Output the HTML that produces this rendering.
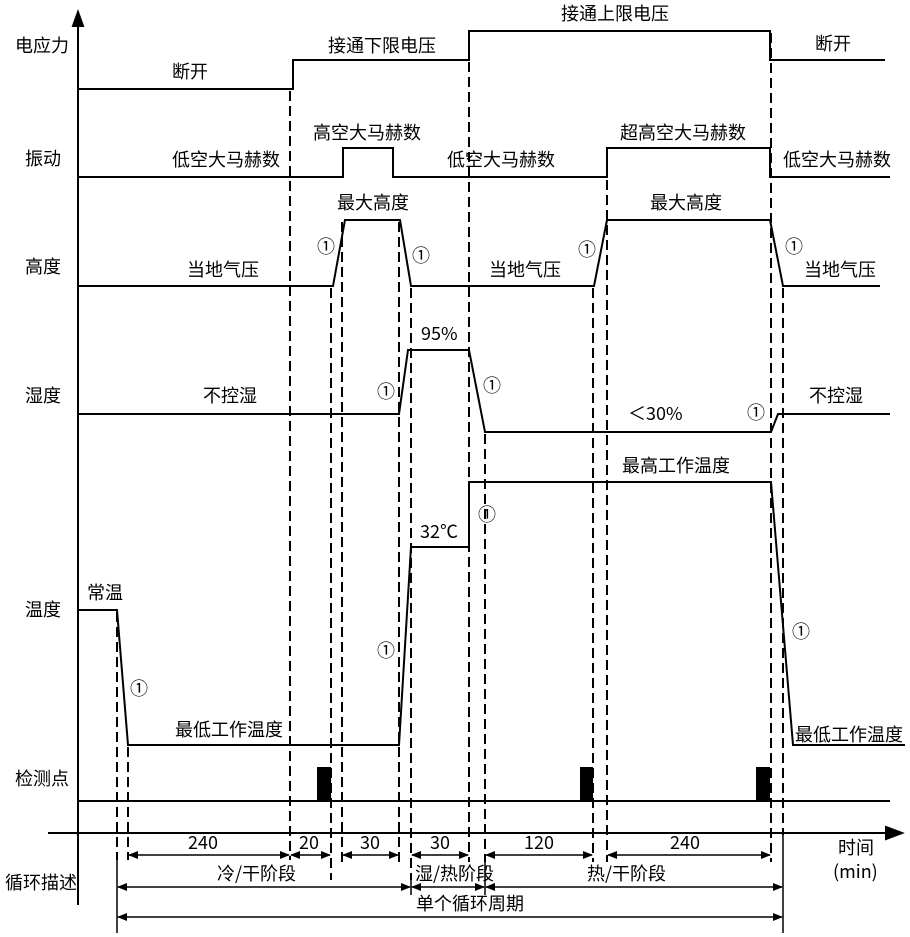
<!DOCTYPE html>
<html><head><meta charset="utf-8"><style>
html,body{margin:0;padding:0;background:#fff;}
svg{display:block;}
text{font-family:"Noto Sans CJK SC","Liberation Sans",sans-serif;font-size:18px;fill:#000;}
</style></head><body>
<svg width="910" height="937" viewBox="0 0 910 937" xmlns="http://www.w3.org/2000/svg">
<defs>
<marker id="a" markerWidth="10" markerHeight="10" refX="9" refY="5" orient="auto-start-reverse" markerUnits="userSpaceOnUse"><path d="M0,1 L10,5 L0,9 z" fill="#000"/></marker>
</defs>
<g stroke="#000" stroke-width="2" fill="none">
<line x1="78" y1="905" x2="78" y2="25"/>
<path d="M73,26 L78,12 L83,26 z" fill="#000"/>
<line x1="48" y1="833" x2="888" y2="833"/>
<path d="M886,827 L902,833 L886,839 z" fill="#000"/>
<polyline points="78,89 293,89 293,60 469,60 469,31 770,31 770,60 885,60"/>
<polyline points="78,177 343,177 343,148 393,148 393,177 607,177 607,148 770,148 770,177 890,177"/>
<polyline points="78,286 333,286 345,220 400,220 411,286 594,286 607,220 770,220 783,286 880,286"/>
<polyline points="78,414 399,414 408,350 469,350 485,432 771,432 778,414 890,414"/>
<polyline points="78,610 117,610 128,745 399,745 411,547 469,547 469,482 771,482 793,745 905,745"/>
<line x1="78" y1="801" x2="890" y2="801"/>
</g>
<g fill="#000">
<rect x="317" y="767" width="14" height="34"/>
<rect x="580" y="767" width="13" height="34"/>
<rect x="756" y="767" width="14" height="34"/>
</g>
<g stroke="#000" stroke-width="2" stroke-dasharray="10,5" fill="none">
<line x1="117" y1="612" x2="117" y2="860"/>
<line x1="128" y1="747" x2="128" y2="860"/>
<line x1="290" y1="91" x2="290" y2="860"/>
<line x1="331" y1="288" x2="331" y2="880"/>
<line x1="342" y1="222" x2="342" y2="862"/>
<line x1="399" y1="222" x2="399" y2="862"/>
<line x1="411" y1="288" x2="411" y2="880"/>
<line x1="469" y1="62" x2="469" y2="862"/>
<line x1="485" y1="434" x2="485" y2="862"/>
<line x1="593" y1="288" x2="593" y2="862"/>
<line x1="607" y1="150" x2="607" y2="862"/>
<line x1="771" y1="33" x2="771" y2="862"/>
<line x1="783" y1="288" x2="783" y2="835"/>
</g>
<g stroke="#000" stroke-width="1.5" fill="none">
<line x1="117" y1="860" x2="117" y2="933"/>
<line x1="783" y1="835" x2="783" y2="933"/>
<line x1="411" y1="880" x2="411" y2="895"/>
<line x1="485" y1="862" x2="485" y2="895"/>
</g>
<g stroke="#000" stroke-width="1.5" fill="none" marker-start="url(#a)" marker-end="url(#a)">
<line x1="129" y1="855" x2="289" y2="855"/>
<line x1="291" y1="855" x2="330" y2="855"/>
<line x1="343" y1="855" x2="398" y2="855"/>
<line x1="412" y1="855" x2="468" y2="855"/>
<line x1="486" y1="855" x2="592" y2="855"/>
<line x1="608" y1="855" x2="770" y2="855"/>
<line x1="118" y1="887" x2="410" y2="887"/>
<line x1="412" y1="887" x2="484" y2="887"/>
<line x1="486" y1="887" x2="782" y2="887"/>
<line x1="118" y1="917" x2="782" y2="917"/>
</g>
<g>
<text x="15" y="52">电应力</text>
<text x="172" y="78">断开</text>
<text x="328" y="52">接通下限电压</text>
<text x="561" y="20">接通上限电压</text>
<text x="815" y="50">断开</text>
<text x="25" y="165">振动</text>
<text x="172" y="166">低空大马赫数</text>
<text x="313" y="139">高空大马赫数</text>
<text x="447" y="166">低空大马赫数</text>
<text x="620" y="139">超高空大马赫数</text>
<text x="783" y="166">低空大马赫数</text>
<text x="25" y="273">高度</text>
<text x="187" y="276">当地气压</text>
<text x="337" y="209">最大高度</text>
<text x="489" y="276">当地气压</text>
<text x="650" y="209">最大高度</text>
<text x="804" y="276">当地气压</text>
<text x="25" y="402">湿度</text>
<text x="203" y="402">不控湿</text>
<text x="421" y="340">95%</text>
<text x="628" y="420">＜30%</text>
<text x="809" y="402">不控湿</text>
<text x="25" y="616">温度</text>
<text x="87" y="599">常温</text>
<text x="175" y="736">最低工作温度</text>
<text x="420" y="538">32℃</text>
<text x="622" y="472">最高工作温度</text>
<text x="795" y="741">最低工作温度</text>
<text x="15" y="785">检测点</text>
<text x="5" y="889">循环描述</text>
<text x="838" y="854">时间</text>
<text x="833" y="878">(min)</text>
<text x="188" y="849">240</text>
<text x="299" y="849">20</text>
<text x="360" y="849">30</text>
<text x="430" y="849">30</text>
<text x="524" y="849">120</text>
<text x="670" y="849">240</text>
<text x="217" y="880">冷/干阶段</text>
<text x="415" y="880">湿/热阶段</text>
<text x="587" y="880">热/干阶段</text>
<text x="416" y="910">单个循环周期</text>
</g>
<g style="font-size:17px">
<text x="130" y="695">①</text>
<text x="317" y="253">①</text>
<text x="412" y="262">①</text>
<text x="578" y="256">①</text>
<text x="785" y="253">①</text>
<text x="377" y="398">①</text>
<text x="483" y="392">①</text>
<text x="747" y="419">①</text>
<text x="377" y="657">①</text>
<text x="478" y="521">①</text>
<text x="792" y="638">①</text>
</g>
</svg>
</body></html>
